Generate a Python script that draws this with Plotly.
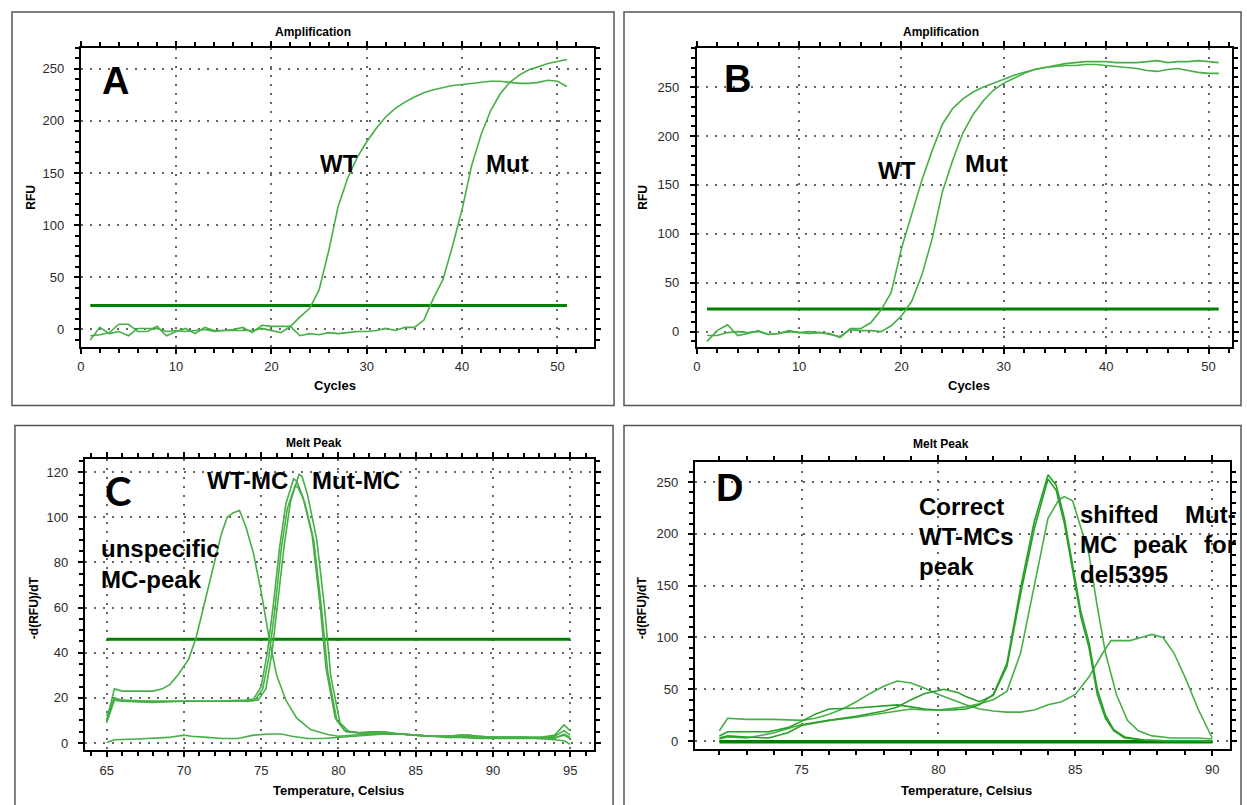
import plotly.graph_objects as go

W, H = 1247, 805

# ---------------- DATA ----------------
# Panel A - Amplification
a_cycles = list(range(1, 52))
a_wt = [-6, -5, -3, 5, 5, -2, -2, 3, -6, -2, 1, -4, 2, -1, -1, 0, 2, -3, 4, 3,
        3, 3, 12, 20, 38, 75, 118, 145, 165, 180, 193, 204, 212, 218, 223, 227,
        230, 232, 234, 235, 236, 237, 238, 238, 237, 236, 236, 237, 239, 238, 233]
a_mut = [-10, 2, -4, -2, -6, 1, 1, 1, -2, -1, -2, -1, 0, -2, -1, -1, -1, -1, 1, -1,
         -3, 3, -6, -4, -5, -3, -4, -3, -2, -2, -1, 1, -1, 2, 2, 9, 30, 48, 80,
         115, 157, 187, 210, 226, 237, 244, 249, 252, 255, 257, 259]
a_threshold_x = [1, 51]
a_threshold_y = [23, 23]

# Panel B - Amplification
b_cycles = list(range(1, 52))
b_wt = [-10, 1, 7, -4, -2, 1, -3, -2, 1, -1, 0, -1, -2, -6, 3, 3, 9, 22, 40, 85,
        120, 155, 185, 212, 228, 238, 245, 250, 254, 258, 262, 265, 268, 270,
        271, 272, 272, 273, 273, 272, 271, 270, 269, 267, 266, 268, 269, 267,
        265, 264, 264]
b_mut = [-4, -4, -1, 0, -1, 0, -3, -2, 0, -1, -2, -1, -3, -5, 2, 1, 1, 0, 6, 16,
         31, 58, 95, 143, 175, 203, 222, 236, 247, 254, 259, 264, 268, 270, 272,
         274, 275, 276, 276, 276, 275, 275, 275, 276, 277, 275, 276, 276, 277,
         276, 275]
b_threshold_x = [1, 51]
b_threshold_y = [23, 23]

# Panel C - Melt Peak
c_unspec_t = [65, 65.5, 66, 67, 68, 68.6, 69.1, 69.6, 70.3, 70.8, 71.3, 71.9, 72.4,
              72.8, 73.2, 73.6, 74.0, 74.5, 75.0, 75.5, 76.0, 76.6, 77.3, 78.2,
              79.3, 80, 81, 82, 83, 84, 85, 86, 87, 88, 89, 90, 91, 92, 93, 94,
              94.6, 95]
c_unspec_v = [10, 24, 23, 23, 23, 24, 26, 30, 37, 47, 61, 77, 92, 100, 102, 103, 96,
              84, 67, 47, 30, 19, 11, 6, 3.8, 3, 3.5, 4, 4, 4, 3.5, 3, 3, 3, 2.5,
              2.5, 2.5, 2.5, 2, 2.5, 3.5, 2]
c_wt1_t = [65, 65.5, 66, 68, 70, 72, 74, 74.5, 75, 75.4, 75.8, 76.2, 76.6, 77.1,
           77.3, 77.7, 78.3, 78.8, 79.2, 79.8, 80.4, 81.2, 82, 83, 84, 85, 86, 87,
           88, 88.5, 89, 90, 91, 92, 93, 94, 94.6, 95]
c_wt1_v = [10, 20, 19, 18.5, 18.5, 18.5, 19, 19.5, 25, 40, 62, 87, 106, 117, 116,
           109, 92, 62, 33, 11, 5.5, 4.7, 4.5, 4.5, 4, 3.5, 3, 3, 3.5, 3.5, 3, 2.5,
           2.5, 2.5, 2.5, 3.5, 8, 5.5]
c_wt2_t = [65, 65.5, 66, 68, 70, 72, 74, 74.6, 75.1, 75.5, 75.9, 76.3, 76.7, 77.2,
           77.4, 77.8, 78.4, 78.9, 79.3, 79.9, 80.5, 81.3, 82, 83, 84, 85, 86, 87,
           88, 89, 90, 91, 92, 93, 94, 94.6, 95]
c_wt2_v = [12, 20, 18.5, 18, 18.5, 18.5, 18.5, 19, 24, 38, 60, 86, 104, 114, 113,
           107, 90, 60, 32, 10, 5, 4.5, 5, 5, 4, 3.5, 3, 3, 3.5, 3, 2.5, 2.5, 2.5,
           2.5, 3, 5.5, 3.5]
c_mut_t = [65, 65.5, 66, 68, 70, 72, 74, 74.8, 75.3, 75.7, 76.1, 76.5, 76.9, 77.45,
           77.65, 78.0, 78.6, 79.1, 79.5, 80.1, 80.7, 81.5, 83, 84, 85, 86, 87, 88,
           89, 90, 91, 92, 93, 94, 94.6, 95]
c_mut_v = [9, 19, 18.5, 18.5, 18.5, 18.5, 18.5, 19, 24, 40, 63, 88, 107, 119, 118,
           110, 90, 60, 30, 9, 5, 4.5, 4, 4, 3.5, 3, 3, 3.5, 3, 2.5, 2.5, 2.5, 2, 2,
           4, 2.5]
c_flat_t = [65, 65.5, 67, 68.5, 69, 70, 70.5, 71.5, 72.5, 73.5, 74.5, 75.5, 76.3, 77,
            78, 79, 80, 81, 82, 83, 84, 85, 86, 87, 88, 89, 90, 91, 92, 93, 94,
            94.6, 95]
c_flat_v = [0.3, 1.5, 1.8, 2.5, 2.5, 3.5, 3, 2.5, 2, 2, 3.5, 4, 4, 3, 2, 2, 2.5, 3,
            3.5, 4, 4, 3.5, 3, 2.5, 2.5, 2, 2, 2, 2, 2, 1.5, 1, -0.5]
c_threshold_x = [65, 95]
c_threshold_y = [46, 46]

# Panel D - Melt Peak
d_mut_t = [72.0, 72.3, 73, 74, 75, 75.5, 76, 76.5, 77, 77.5, 78, 78.5, 79, 79.5, 80,
           80.5, 81, 81.5, 82, 82.5, 83, 83.5, 84, 84.5, 85, 85.5, 86, 86.3, 86.6,
           87, 87.4, 87.8, 88.2, 88.6, 89, 89.5, 90]
d_mut_v = [10, 22, 21, 21, 20, 22, 26, 31, 38, 46, 53, 58, 56, 51, 45, 40, 35, 31,
           29, 28, 28, 30, 35, 38, 45, 62, 85, 97, 97, 97, 100, 103, 100, 85, 62,
           30, 3]
d_wt1_t = [72.0, 72.3, 73, 73.8, 74.5, 75, 75.5, 76, 77, 78, 78.5, 79, 79.5, 80,
           80.5, 81, 81.5, 82, 82.5, 83, 83.5, 84.0, 84.3, 84.6, 84.9, 85.2, 85.5,
           85.8, 86.1, 86.4, 86.8, 87.5, 88.5, 90]
d_wt1_v = [5, 9, 9, 9, 13, 19, 26, 31, 32, 34, 35, 33, 31, 30, 30, 31, 35, 45, 75,
           148, 212, 257, 247, 215, 170, 125, 95, 50, 25, 11, 4, 1, 0, 0]
d_wt2_t = [72.0, 72.3, 73, 73.8, 74.5, 75, 76, 77, 78, 78.5, 79, 79.5, 80.2, 80.7,
           81, 81.5, 82, 82.5, 83, 83.5, 84.0, 84.3, 84.6, 84.9, 85.2, 85.5, 85.8,
           86.1, 86.4, 86.8, 87.5, 88.5, 90]
d_wt2_v = [3, 5, 4, 3, 8, 15, 20, 24, 29, 33, 40, 46, 50, 47, 43, 38, 44, 72, 142,
           205, 253, 242, 210, 165, 120, 90, 45, 22, 10, 3, 1, 0, 0]
d_wt3_t = [72.0, 72.3, 73, 74, 75, 76, 77, 78, 79, 79.5, 80, 81, 81.5, 82, 82.5, 83,
           83.5, 84, 84.4, 84.6, 84.9, 85.2, 85.5, 85.8, 86.1, 86.5, 86.9, 87.3,
           87.8, 88.5, 89.5, 90]
d_wt3_v = [2, 4, 3, 8, 16, 20, 23, 27, 31, 30, 30, 33, 36, 40, 48, 85, 150, 215,
           233, 236, 232, 205, 180, 130, 85, 45, 20, 10, 5, 3, 3, 2]
d_ntc_t = [72.0, 90]
d_ntc_v = [0, 0]
d_threshold_x = [72.0, 90]
d_threshold_y = [-1, -1]

# ---------------- STYLE ----------------
CURVE = "rgb(70,175,70)"
THRESH = "rgb(0,128,0)"
FONT = "Liberation Sans, Arial, sans-serif"


def px(x):
    return x / W


def py(y):
    return 1 - y / H


fig = go.Figure()


def add_line(x, y, ax, color=CURVE, width=1.6):
    fig.add_trace(go.Scatter(x=x, y=y, mode="lines", xaxis=ax[0], yaxis=ax[1],
                             line=dict(color=color, width=width),
                             showlegend=False, hoverinfo="skip"))


axA, axB, axC, axD = ("x", "y"), ("x2", "y2"), ("x3", "y3"), ("x4", "y4")

add_line(a_threshold_x, a_threshold_y, axA, THRESH, 3)
add_line(a_cycles, a_wt, axA)
add_line(a_cycles, a_mut, axA)

add_line(b_threshold_x, b_threshold_y, axB, THRESH, 3)
add_line(b_cycles, b_wt, axB)
add_line(b_cycles, b_mut, axB)

add_line(c_threshold_x, c_threshold_y, axC, THRESH, 3)
add_line(c_flat_t, c_flat_v, axC)
add_line(c_unspec_t, c_unspec_v, axC)
add_line(c_wt1_t, c_wt1_v, axC)
add_line(c_wt2_t, c_wt2_v, axC)
add_line(c_mut_t, c_mut_v, axC)

add_line(d_threshold_x, d_threshold_y, axD, THRESH, 3)
add_line(d_ntc_t, d_ntc_v, axD, THRESH, 2)
add_line(d_mut_t, d_mut_v, axD)
add_line(d_wt3_t, d_wt3_v, axD)
add_line(d_wt2_t, d_wt2_v, axD, "rgb(40,160,40)")
add_line(d_wt1_t, d_wt1_v, axD, "rgb(40,160,40)")


def axis(domain, rng, dtick, minor_dtick, anchor, tick0=0, standoff=2):
    return dict(domain=domain, range=rng, anchor=anchor, dtick=dtick, tick0=tick0,
                showline=True, linecolor="black", linewidth=2, mirror="allticks",
                ticks="outside", ticklen=5, tickwidth=2, tickcolor="black",
                ticklabelstandoff=standoff,
                showgrid=True, gridcolor="#666", gridwidth=1.5, griddash="2px,7px",
                zeroline=False,
                tickfont=dict(family=FONT, size=13, color="#2a2a2a"),
                minor=dict(dtick=minor_dtick, tick0=tick0, ticks="outside", ticklen=4,
                           tickwidth=1.5, tickcolor="black", showgrid=False))


layout = dict(
    width=W, height=H, margin=dict(l=0, r=0, t=0, b=0),
    paper_bgcolor="white", plot_bgcolor="white", showlegend=False,
    xaxis=axis([px(77), px(592)], [0, 53.85], 10, 2, "y"),
    yaxis=axis([py(347), py(48)], [-16.4, 270], 50, 10, "x", standoff=7),
    xaxis2=axis([px(695), px(1232)], [0, 52.3], 10, 2, "y2"),
    yaxis2=axis([py(347), py(48)], [-15.3, 290], 50, 10, "x2", standoff=8),
    xaxis3=axis([px(81), px(592)], [63.58, 96.55], 5, 1, "y3", tick0=65),
    yaxis3=axis([py(751), py(460)], [-3.1, 125.6], 20, 5, "x3", standoff=7),
    xaxis4=axis([px(693), px(1230)], [71.1, 90.65], 5, 1, "y4", tick0=75),
    yaxis4=axis([py(750), py(463)], [-7.7, 269], 50, 10, "x4", standoff=7),
)
fig.update_layout(**layout)

# panel borders
shapes = []
for (x0, y0, x1, y1) in [(8, 12, 612, 406), (622, 12, 1241, 406),
                         (11, 426, 611, 815), (622, 426, 1241, 815)]:
    shapes.append(dict(type="rect", xref="paper", yref="paper",
                       x0=px(x0), x1=px(x1), y0=py(y1), y1=py(y0),
                       line=dict(color="#555", width=1.5), fillcolor="rgba(0,0,0,0)"))
fig.update_layout(shapes=shapes)

ann = []


def text(t, x, y, size, xanchor="center", angle=0, family=FONT, color="black"):
    ann.append(dict(text=t, x=px(x), y=py(y), xref="paper", yref="paper",
                    xanchor=xanchor, yanchor="middle", showarrow=False,
                    textangle=angle,
                    font=dict(family=family, size=size, color=color, weight="bold")))


# chart titles
text("Amplification", 310, 32, 12)
text("Amplification", 940, 32, 12)
text("Melt Peak", 311, 444, 12)
text("Melt Peak", 940, 445, 12)
# axis titles
text("Cycles", 332, 386, 13)
text("Cycles", 968, 386, 13)
text("Temperature, Celsius", 336, 791, 13)
text("Temperature, Celsius", 966, 791, 13)
text("RFU", 27, 197, 12, angle=-90)
text("RFU", 641, 197, 12, angle=-90)
text("-d(RFU)/dT", 30, 608, 12, angle=-90)
text("-d(RFU)/dT", 640, 608, 12, angle=-90)
# panel letters
text("A", 96, 81, 38, "left")
text("B", 720, 79, 38, "left")
text("C", 99, 492, 40, "left", family="Lato, sans-serif")
text("D", 712, 489, 38, "left")
# labels
text("WT", 336, 164, 24)
text("Mut", 505, 164, 24)
text("WT", 896, 171, 24)
text("Mut", 986, 164, 24)
text("WT-MC", 244, 481, 24)
text("Mut-MC", 353, 481, 24)
text("unspecific", 95, 549, 24, "left")
text("MC-peak", 95, 580, 24, "left")
text("Correct", 916, 507, 24, "left")
text("WT-MCs", 916, 537, 24, "left")
text("peak", 916, 567, 24, "left")
text("shifted", 1077, 515, 24, "left")
text("Mut-", 1238, 515, 24, "right")
text("MC", 1077, 545, 24, "left")
text("peak", 1160, 545, 24, "center")
text("for", 1238, 545, 24, "right")
text("del5395", 1077, 575, 24, "left")
fig.update_layout(annotations=ann)

fig.write_html("out.html", config={"displayModeBar": False},
               post_script="document.body.style.margin='0';document.body.style.padding='0';")
